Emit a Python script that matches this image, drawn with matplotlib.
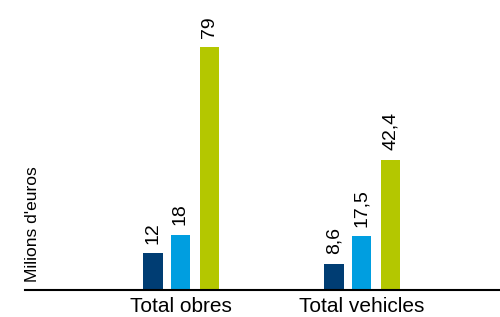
import numpy as np
import matplotlib.pyplot as plt

plt.rcParams['font.family'] = ['Liberation Sans', 'DejaVu Sans']

# data
categories = ["Total obres", "Total vehicles"]
series_a = [12, 8.6]
series_b = [18, 17.5]
series_c = [79, 42.4]
labels_a = ["12", "8,6"]
labels_b = ["18", "17,5"]
labels_c = ["79", "42,4"]
colors = ['#003d73', '#009ee0', '#b4c700']

fig = plt.figure(figsize=(5, 3.17), dpi=100)
ax = fig.add_axes([0.05, 1 - 290 / 317, 0.95, 290 / 317])

x = np.arange(len(categories))
w = 0.11
offsets = [-0.152, 0, 0.16]
for off, vals, labs, c in zip(offsets, [series_a, series_b, series_c],
                              [labels_a, labels_b, labels_c], colors):
    bars = ax.bar(x + off, vals, width=w, color=c)
    for b, lab in zip(bars, labs):
        ax.text(b.get_x() + b.get_width() / 2, b.get_height() + 3.0, lab,
                rotation=90, ha='center', va='bottom', fontsize=14)

ax.set_xlim(-0.859, 1.765)
ax.set_ylim(0, 94.3)
ax.set_xticks(x)
ax.set_xticklabels(categories, fontsize=15)
ax.tick_params(axis='x', length=0, pad=5)
ax.set_yticks([])
for s in ['top', 'right', 'left']:
    ax.spines[s].set_visible(False)
ax.spines['bottom'].set_linewidth(1.5)
ax.text(-0.86, 21.5, "Milions d'euros", rotation=90, ha='left', va='center',
        fontsize=12.5)

fig.savefig('out.png', dpi=100)
